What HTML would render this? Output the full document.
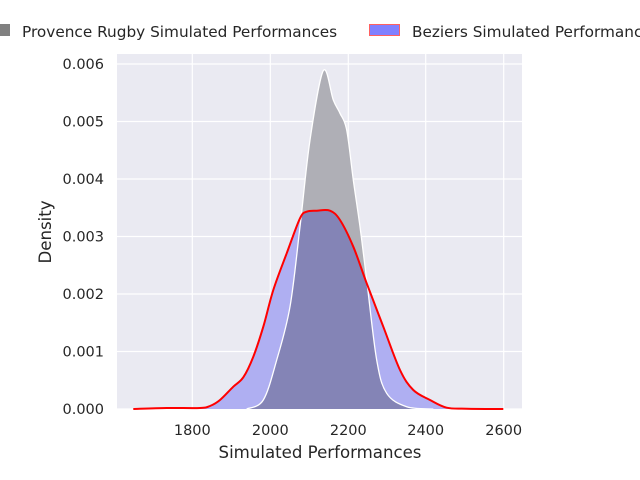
<!DOCTYPE html>
<html><head><meta charset="utf-8"><style>
body{margin:0;background:#fff;}
svg{display:block;font-family:"DejaVu Sans","Liberation Sans",sans-serif;}
</style></head><body>
<svg width="640" height="480" viewBox="0 0 640 480">
<defs>
<clipPath id="bc"><path id="bcp" d=""/></clipPath>
</defs>
<rect x="117" y="54" width="405" height="355" fill="#eaeaf2"/>
<g stroke="#fff" stroke-width="1.2">
<line x1="192.3" y1="54" x2="192.3" y2="409"/><line x1="270.3" y1="54" x2="270.3" y2="409"/><line x1="348.3" y1="54" x2="348.3" y2="409"/><line x1="425.7" y1="54" x2="425.7" y2="409"/><line x1="503.7" y1="54" x2="503.7" y2="409"/>
<line x1="117" y1="409" x2="522" y2="409"/><line x1="117" y1="351.5" x2="522" y2="351.5"/><line x1="117" y1="294" x2="522" y2="294"/><line x1="117" y1="236.5" x2="522" y2="236.5"/><line x1="117" y1="179" x2="522" y2="179"/><line x1="117" y1="121.5" x2="522" y2="121.5"/><line x1="117" y1="64" x2="522" y2="64"/>
</g>
<path id="bf" d="" fill="#afaff2"/>
<path id="gf" d="" fill="#afafb6"/>
<path id="go" d="" fill="#8484b6" clip-path="url(#bc)"/>
<path id="gl" d="" fill="none" stroke="#fff" stroke-width="1.3" stroke-linejoin="round"/>
<path id="rl" d="" fill="none" stroke="#ff0000" stroke-width="2" stroke-linejoin="round"/>
<g font-size="14.5" fill="#262626" text-anchor="end">
<text x="104" y="414">0.000</text><text x="104" y="356.5">0.001</text><text x="104" y="299">0.002</text><text x="104" y="241.5">0.003</text><text x="104" y="184">0.004</text><text x="104" y="126.5">0.005</text><text x="104" y="69">0.006</text>
</g>
<g font-size="14.5" fill="#262626" text-anchor="middle">
<text x="192.3" y="435">1800</text><text x="270.3" y="435">2000</text><text x="348.3" y="435">2200</text><text x="425.7" y="435">2400</text><text x="503.7" y="435">2600</text>
<text x="320" y="458" font-size="16.6">Simulated Performances</text>
<text transform="translate(51,232) rotate(-90)" font-size="16.6">Density</text>
</g>
<rect x="-5" y="24" width="15" height="12" fill="#808080"/>
<text x="22" y="37" font-size="15.3" fill="#262626">Provence Rugby Simulated Performances</text>
<rect x="369.5" y="24.5" width="30" height="11" fill="#8080ff" stroke="#ff6060"/>
<text x="412" y="37" font-size="15.3" fill="#262626">Beziers Simulated Performances</text>
</svg>
<script>
var R=[[133.3,409],[166.7,408],[200,408],[210,406],[220,400],[233.3,386.7],[243.3,377.3],[253.3,356.7],[263.3,326.7],[273.3,290],[286.7,253.3],[300,218.3],[306.7,211.7],[316.7,210.7],[330,210.7],[340,220],[353.3,246.7],[366.7,283.3],[383.3,326.7],[400,370],[413.3,390],[430,400],[446.7,407.7],[466.7,408.7],[503.3,409]];
var G=[[246.7,409],[263.3,400],[276.7,360],[290,306.7],[300,226.7],[310,140],[323.3,70.7],[333.3,100],[340,113.3],[346.7,130],[353.3,180],[360,226.7],[366.7,280],[376.7,360],[386.7,393.3],[406.7,406.7],[433.3,409]];
function cr(p){var d="M"+p[0][0]+","+p[0][1];for(var i=0;i<p.length-1;i++){var a=p[i-1]||p[i],b=p[i],c=p[i+1],e=p[i+2]||c;
d+=" C"+(b[0]+(c[0]-a[0])/6)+","+(b[1]+(c[1]-a[1])/6)+" "+(c[0]-(e[0]-b[0])/6)+","+(c[1]-(e[1]-b[1])/6)+" "+c[0]+","+c[1];}return d;}
var r=cr(R),g=cr(G);
document.getElementById("bf").setAttribute("d",r+"Z");
document.getElementById("bcp").setAttribute("d",r+"Z");
document.getElementById("gf").setAttribute("d",g+"Z");
document.getElementById("go").setAttribute("d",g+"Z");
document.getElementById("gl").setAttribute("d",g);
document.getElementById("rl").setAttribute("d",r);
</script>
</body></html>
